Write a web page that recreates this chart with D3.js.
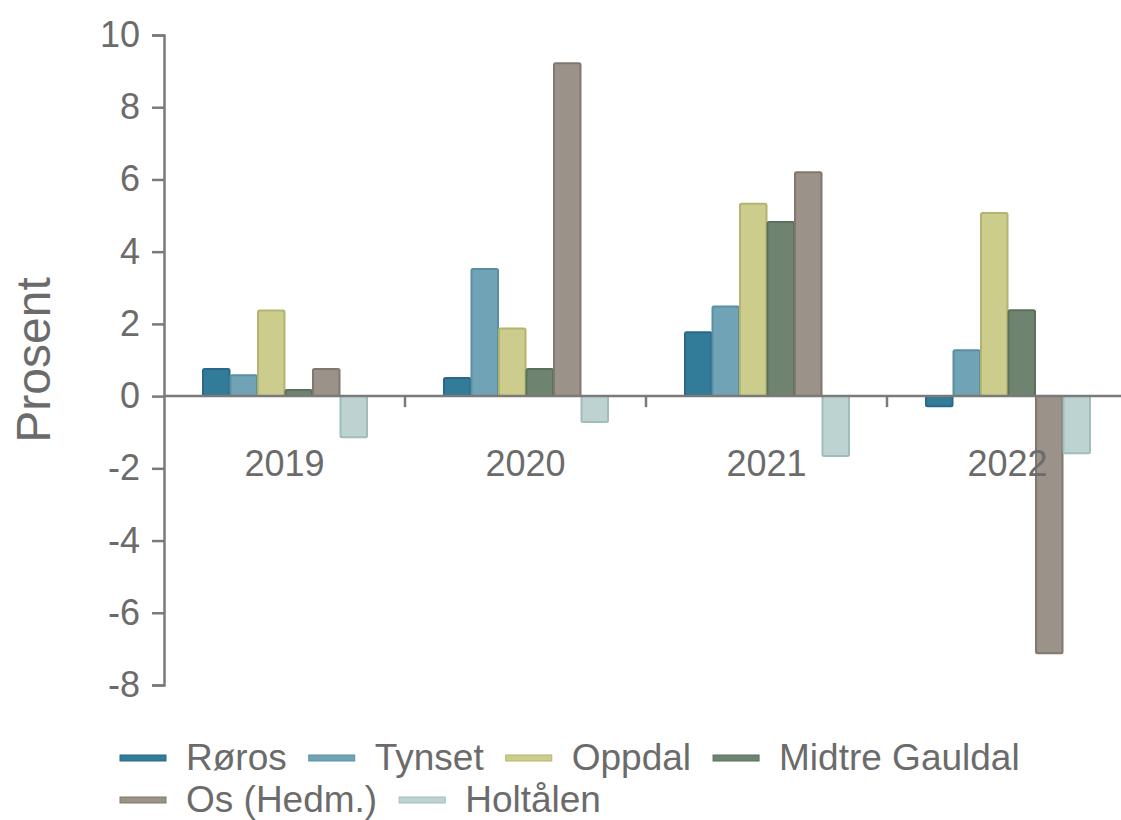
<!DOCTYPE html>
<html>
<head>
<meta charset="utf-8">
<script src="https://cdn.jsdelivr.net/npm/d3@7"></script>
<style>
  body { margin: 0; background: #fff; }
  svg text { font-family: "Liberation Sans", Arial, sans-serif; fill: #6b6b6b; }
</style>
</head>
<body>
<svg id="chart" width="1121" height="820"></svg>
<script>
// data
const years = ["2019", "2020", "2021", "2022"];
const kommuner = ["Røros", "Tynset", "Oppdal", "Midtre Gauldal", "Os (Hedm.)", "Holtålen"];
const roros   = [0.75, 0.5, 1.77, -0.28];
const tynset  = [0.58, 3.52, 2.48, 1.27];
const oppdal  = [2.37, 1.87, 5.33, 5.07];
const midtre  = [0.17, 0.75, 4.82, 2.38];
const os      = [0.75, 9.22, 6.2, -7.12];
const holtaalen = [-1.14, -0.72, -1.66, -1.58];
const yTicks = [-8, -6, -4, -2, 0, 2, 4, 6, 8, 10];

const series = [roros, tynset, oppdal, midtre, os, holtaalen];
const fills   = ["#337c99", "#70a3b5", "#cccd8c", "#6e8470", "#9b9289", "#bcd3d2"];
const strokes = ["#2a6985", "#5a8fa2", "#b3b46f", "#59705b", "#807870", "#a0bdbc"];

const svg = d3.select("#chart");

const x0 = d3.scaleBand()
  .domain(years)
  .range([164, 1128]);

const groupPad = 38;
const x1 = d3.scaleBand()
  .domain(kommuner)
  .range([groupPad, x0.bandwidth() - groupPad]);

const y = d3.scaleLinear()
  .domain([-8, 10])
  .range([685, 35]);

// bars
const rows = [];
years.forEach((yr, i) => {
  kommuner.forEach((k, j) => {
    rows.push({ year: yr, k: k, j: j, v: series[j][i] });
  });
});

svg.append("g")
  .selectAll("rect")
  .data(rows)
  .join("rect")
  .attr("x", d => x0(d.year) + x1(d.k) + 1)
  .attr("width", x1.bandwidth() - 1)
  .attr("y", d => y(Math.max(0, d.v)))
  .attr("height", d => Math.abs(y(d.v) - y(0)))
  .attr("rx", 1.5)
  .attr("fill", d => fills[d.j])
  .attr("stroke", d => strokes[d.j])
  .attr("stroke-width", 2);

// y axis
const yAxis = svg.append("g")
  .attr("transform", "translate(164,0)")
  .call(d3.axisLeft(y).tickValues(yTicks).tickFormat(d => String(d))
    .tickSize(12).tickPadding(12).tickSizeOuter(12));
yAxis.selectAll("path, line").attr("stroke", "#7a7a7a").attr("stroke-width", 2.5);
yAxis.selectAll("text")
  .style("font-size", "36px")
  .attr("fill", "#6b6b6b");

// x axis on zero line, ticks at band boundaries
const xg = svg.append("g");
xg.append("line")
  .attr("x1", 164).attr("x2", 1128)
  .attr("y1", y(0)).attr("y2", y(0))
  .attr("stroke", "#7a7a7a").attr("stroke-width", 2.5);
xg.selectAll("line.tk")
  .data(years.slice(1))
  .join("line")
  .attr("class", "tk")
  .attr("x1", d => x0(d)).attr("x2", d => x0(d))
  .attr("y1", y(0)).attr("y2", y(0) + 11)
  .attr("stroke", "#7a7a7a").attr("stroke-width", 2.5);
xg.selectAll("text")
  .data(years)
  .join("text")
  .attr("x", d => x0(d) + x0.bandwidth() / 2)
  .attr("y", y(0) + 80)
  .attr("text-anchor", "middle")
  .style("font-size", "36px")
  .text(d => d);

// y title
svg.append("text")
  .attr("transform", "translate(50,360) rotate(-90)")
  .attr("text-anchor", "middle")
  .style("font-size", "48px")
  .text("Prosent");

// legend, flowing in rows
const legend = svg.append("g");
let lx = 120, ly = 758;
const maxX = 1080;
kommuner.forEach((k, j) => {
  const g = legend.append("g");
  g.append("rect")
    .attr("x", 0).attr("y", -3).attr("width", 46).attr("height", 6)
    .attr("fill", fills[j]).attr("stroke", strokes[j]).attr("stroke-width", 1);
  const t = g.append("text")
    .attr("x", 66).attr("y", 12)
    .style("font-size", "37px")
    .text(k);
  const w = 66 + t.node().getComputedTextLength();
  if (lx + w > maxX) { lx = 120; ly += 42; }
  g.attr("transform", `translate(${lx},${ly})`);
  lx += w + 22;
});
</script>
</body>
</html>
